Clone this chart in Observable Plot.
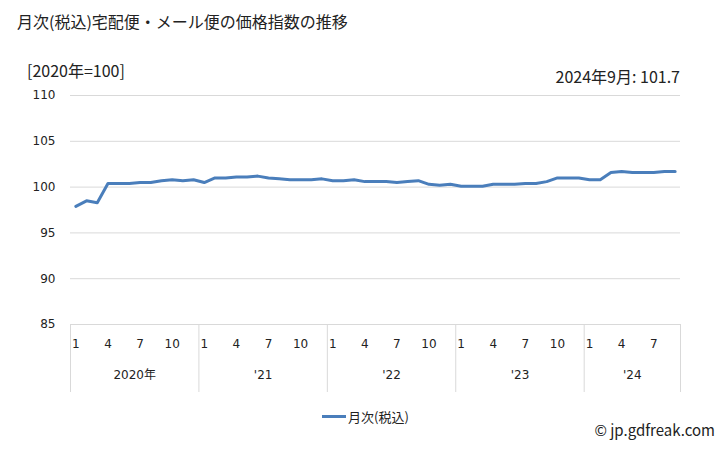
<!DOCTYPE html>
<html>
<head>
<meta charset="utf-8">
<script src="https://cdn.jsdelivr.net/npm/d3@7"></script>
<script src="https://cdn.jsdelivr.net/npm/@observablehq/plot@0.6"></script>
<style>
  body { margin: 0; background: #fff; font-family: "Noto Sans CJK JP", "Noto Sans", sans-serif; }
  #wrap { position: relative; width: 728px; height: 450px; overflow: hidden; }
  #chart { position: absolute; left: 0; top: 0; }
  .txt { position: absolute; color: #222; white-space: nowrap; }
</style>
</head>
<body>
<div id="wrap">
  <div id="chart"></div>
  <div class="txt" id="title" style="left:17px; top:9px; font-size:16px;"></div>
  <div class="txt" id="unit" style="left:27px; top:58px; font-size:16px;"></div>
  <div class="txt" id="latest" style="right:48px; top:64px; font-size:16px;"></div>
  <div class="txt" id="legend" style="left:322px; top:407px; font-size:13px; display:flex; align-items:center;">
    <span style="display:inline-block; width:24px; height:3px; background:#4a7ebb; margin-right:2px;"></span><span id="legtext"></span>
  </div>
  <div class="txt" id="copy" style="right:13px; top:419px; font-size:15px;"></div>
</div>
<script>
const titleText = "月次(税込)宅配便・メール便の価格指数の推移";
const unitText = "[2020年=100]";
const latestText = "2024年9月: 101.7";
const seriesName = "月次(税込)";
const copyText = "© jp.gdfreak.com";

const yearLabels = ["2020年", "'21", "'22", "'23", "'24"];
const yearMonths = [12, 12, 12, 12, 9];
const monthTickLabels = [1, 4, 7, 10];
const yTicks = [85, 90, 95, 100, 105, 110];

const values = [
  97.9, 98.5, 98.3, 100.4, 100.4, 100.4, 100.5, 100.5, 100.7, 100.8, 100.7, 100.8,
  100.5, 101.0, 101.0, 101.1, 101.1, 101.2, 101.0, 100.9, 100.8, 100.8, 100.8, 100.9,
  100.7, 100.7, 100.8, 100.6, 100.6, 100.6, 100.5, 100.6, 100.7, 100.3, 100.2, 100.3,
  100.1, 100.1, 100.1, 100.3, 100.3, 100.3, 100.4, 100.4, 100.6, 101.0, 101.0, 101.0,
  100.8, 100.8, 101.6, 101.7, 101.6, 101.6, 101.6, 101.7, 101.7
];

document.getElementById("title").textContent = titleText;
document.getElementById("unit").textContent = unitText;
document.getElementById("latest").textContent = latestText;
document.getElementById("legtext").textContent = seriesName;
document.getElementById("copy").textContent = copyText;

const data = values.map((v, i) => ({i, v}));
const n = values.length;

const yearStarts = [];
let acc = 0;
for (const m of yearMonths) { yearStarts.push(acc); acc += m; }
const yearCenters = yearStarts.map((s, k) => s + (yearMonths[k] - 1) / 2);
const boundaries = [...yearStarts.map(s => s - 0.5), n - 0.5];
const monthTicks = data.filter(d => monthTickLabels.includes((d.i % 12) + 1)).map(d => d.i);

const axisFont = "'DejaVu Sans', 'Noto Sans CJK JP', sans-serif";
const chart = Plot.plot({
  width: 728,
  height: 450,
  marginLeft: 70,
  marginRight: 48,
  marginTop: 95,
  marginBottom: 126,
  style: {fontFamily: axisFont, fontSize: "12px", color: "#222", background: "transparent"},
  x: {domain: [-0.5, n - 0.5], axis: null},
  y: {domain: [85, 110], axis: null},
  marks: [
    Plot.gridY(yTicks, {stroke: "#d9d9d9", strokeOpacity: 1}),
    Plot.axisY({ticks: yTicks, tickSize: 0, tickPadding: 15, fontSize: 12, label: null}),
    Plot.axisX({ticks: boundaries, tickSize: 68, tickFormat: () => "", stroke: "#d9d9d9", strokeOpacity: 1, label: null}),
    Plot.axisX({ticks: monthTicks, tickSize: 0, tickPadding: 15, tickFormat: i => String((i % 12) + 1), fontSize: 12, label: null}),
    Plot.axisX({ticks: yearCenters, tickSize: 0, tickPadding: 46, tickFormat: c => yearLabels[yearCenters.indexOf(c)], fontSize: 12, label: null}),
    Plot.line(data, {x: "i", y: "v", stroke: "#4a7ebb", strokeWidth: 3, strokeLinejoin: "round"})
  ]
});
document.getElementById("chart").appendChild(chart);
</script>
</body>
</html>
